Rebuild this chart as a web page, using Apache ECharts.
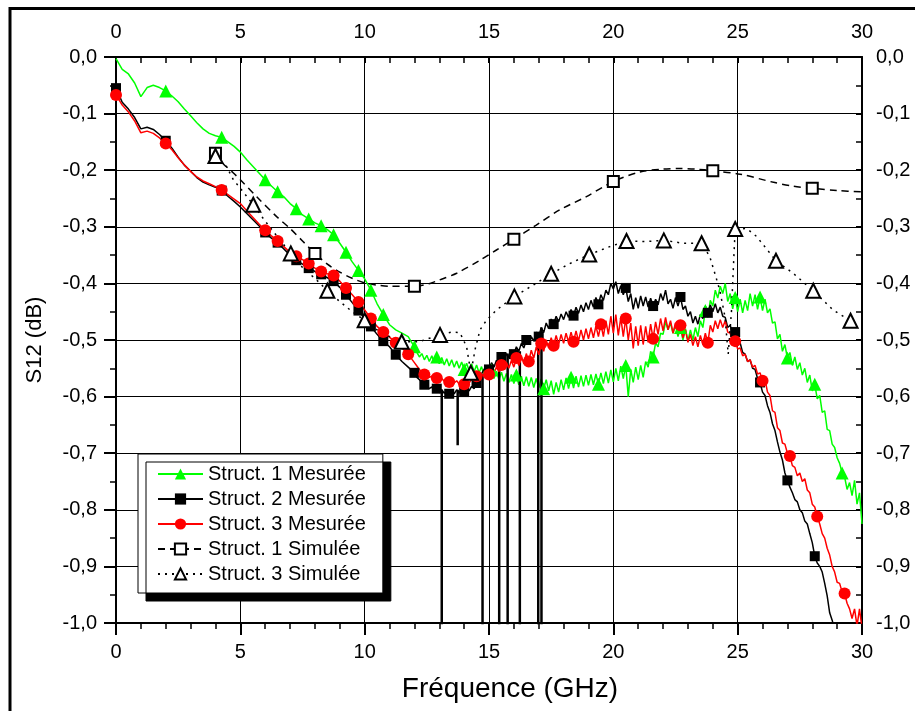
<!DOCTYPE html>
<html><head><meta charset="utf-8">
<script src="https://cdn.jsdelivr.net/npm/echarts@6/dist/echarts.min.js"></script>
<style>html,body{margin:0;padding:0;background:#fff}#c{width:915px;height:711px}</style>
</head><body><div id="c"></div><script>
// Frequency grid (GHz) of the measured curves
const freq = [
0,0.25,0.5,0.75, 1,1.25,1.5,1.75, 2,2.25,2.5,2.75, 3,3.25,3.5,3.75, 4,4.25,4.5,4.75, 5,5.25,5.5,5.75,
6,6.25,6.5,6.75, 7,7.25,7.5,7.75, 8,8.25,8.5,8.75, 9,9.25,9.5,9.75, 10,10.25,10.5,10.75, 11,11.25,11.5,11.75, 12,
12.1,12.2,12.3,12.4,12.5,12.6,12.7,12.8,12.9,13,
13.1,13.2,13.3,13.4,13.5,13.6,13.7,13.8,13.9,14,
14.1,14.2,14.3,14.4,14.5,14.6,14.7,14.8,14.9,15,
15.1,15.2,15.3,15.4,15.5,15.6,15.7,15.8,15.9,16,
16.1,16.2,16.3,16.4,16.5,16.6,16.7,16.8,16.9,17,
17.1,17.2,17.3,17.4,17.5,17.6,17.7,17.8,17.9,18,
18.1,18.2,18.3,18.4,18.5,18.6,18.7,18.8,18.9,19,
19.1,19.2,19.3,19.4,19.5,19.6,19.7,19.8,19.9,20,
20.1,20.2,20.3,20.4,20.5,20.6,20.7,20.8,20.9,21,
21.1,21.2,21.3,21.4,21.5,21.6,21.7,21.8,21.9,22,
22.1,22.2,22.3,22.4,22.5,22.6,22.7,22.8,22.9,23,
23.1,23.2,23.3,23.4,23.5,23.6,23.7,23.8,23.9,24,
24.1,24.2,24.3,24.4,24.5,24.6,24.7,24.8,24.9,25,
25.1,25.2,25.3,25.4,25.5,25.6,25.7,25.8,25.9,26,
26.1,26.2,26.3,26.4,26.5,26.6,26.7,26.8,26.9,27,
27.1,27.2,27.3,27.4,27.5,27.6,27.7,27.8,27.9,28,
28.1,28.2,28.3,28.4,28.5,28.6,28.7,28.8,28.9,29,
29.1,29.2,29.3,29.4,29.5,29.6,29.7,29.8,29.9,30
];
// Struct. 1 Mesurée (dB)
const s1Meas = [
-0.003,-0.022,-0.030,-0.046, -0.070,-0.054,-0.050,-0.054, -0.060,-0.069,-0.079,-0.092, -0.104,-0.116,-0.127,-0.135,
-0.139,-0.142,-0.150,-0.158, -0.168,-0.181,-0.193,-0.205, -0.217,-0.228,-0.238,-0.247, -0.259,-0.268,-0.279,-0.286,
-0.293,-0.298,-0.305,-0.314, -0.329,-0.345,-0.362,-0.377, -0.392,-0.412,-0.436,-0.455, -0.473,-0.482,-0.488,-0.494, -0.512,
-0.522,-0.530,-0.524,-0.535,-0.527,-0.538,-0.528,-0.540,-0.530,-0.542,
-0.531,-0.544,-0.533,-0.546,-0.535,-0.548,-0.537,-0.550,-0.539,-0.552,
-0.541,-0.554,-0.542,-0.556,-0.544,-0.558,-0.547,-0.562,-0.550,-0.566,
-0.553,-0.568,-0.555,-0.570,-0.557,-0.573,-0.559,-0.575,-0.561,-0.577,
-0.562,-0.579,-0.564,-0.581,-0.565,-0.582,-0.566,-0.584,-0.568,-0.585,
-0.569,-0.586,-0.570,-0.590,-0.572,-0.596,-0.575,-0.592,-0.570,-0.588,
-0.567,-0.586,-0.566,-0.585,-0.564,-0.583,-0.563,-0.582,-0.562,-0.580,
-0.561,-0.579,-0.560,-0.578,-0.558,-0.577,-0.556,-0.576,-0.553,-0.574,
-0.550,-0.572,-0.546,-0.568,-0.545,-0.600,-0.552,-0.575,-0.548,-0.570,
-0.545,-0.566,-0.538,-0.548,-0.520,-0.530,-0.505,-0.512,-0.488,-0.490,
-0.468,-0.482,-0.470,-0.488,-0.474,-0.494,-0.478,-0.500,-0.480,-0.502,
-0.482,-0.500,-0.478,-0.494,-0.466,-0.478,-0.448,-0.460,-0.430,-0.440,
-0.412,-0.426,-0.405,-0.418,-0.400,-0.432,-0.418,-0.445,-0.425,-0.450,
-0.428,-0.452,-0.430,-0.448,-0.418,-0.440,-0.420,-0.446,-0.424,-0.448,
-0.428,-0.452,-0.445,-0.470,-0.468,-0.498,-0.490,-0.520,-0.508,-0.532,
-0.522,-0.545,-0.530,-0.552,-0.540,-0.562,-0.550,-0.575,-0.562,-0.590,
-0.578,-0.604,-0.598,-0.628,-0.625,-0.658,-0.660,-0.684,-0.690,-0.708,
-0.718,-0.735,-0.742,-0.764,-0.752,-0.775,-0.748,-0.790,-0.770,-0.825
];
// Struct. 2 Mesurée (dB)
const s2Meas = [
-0.055,-0.080,-0.092,-0.107, -0.127,-0.124,-0.128,-0.137, -0.148,-0.161,-0.177,-0.191, -0.202,-0.213,-0.221,-0.226,
-0.230,-0.236,-0.246,-0.255, -0.265,-0.276,-0.287,-0.298, -0.310,-0.320,-0.328,-0.339, -0.350,-0.359,-0.366,-0.373,
-0.379,-0.384,-0.390,-0.396, -0.407,-0.420,-0.434,-0.448, -0.462,-0.476,-0.490,-0.502, -0.512,-0.526,-0.538,-0.548, -0.558,
-0.566,-0.570,-0.575,-0.579,-0.582,-0.586,-0.583,-0.590,-0.586,-0.593,
-0.588,-0.594,-0.589,-0.595,-0.589,-0.595,-0.588,-0.594,-0.587,-0.592,
-0.585,-0.590,-0.582,-0.586,-0.576,-0.578,-0.560,-0.552,-0.545,-0.552,
-0.540,-0.548,-0.536,-0.543,-0.530,-0.537,-0.524,-0.531,-0.518,-0.525,
-0.512,-0.520,-0.506,-0.514,-0.500,-0.508,-0.494,-0.502,-0.486,-0.494,
-0.478,-0.487,-0.470,-0.480,-0.463,-0.472,-0.458,-0.468,-0.454,-0.464,
-0.450,-0.460,-0.446,-0.457,-0.442,-0.453,-0.438,-0.450,-0.434,-0.446,
-0.430,-0.442,-0.425,-0.437,-0.420,-0.430,-0.412,-0.420,-0.400,-0.410,
-0.397,-0.418,-0.404,-0.420,-0.408,-0.432,-0.418,-0.446,-0.425,-0.444,
-0.422,-0.440,-0.424,-0.442,-0.426,-0.440,-0.428,-0.438,-0.418,-0.430,
-0.412,-0.436,-0.428,-0.444,-0.425,-0.440,-0.424,-0.446,-0.440,-0.458,
-0.450,-0.470,-0.458,-0.472,-0.455,-0.462,-0.440,-0.452,-0.438,-0.450,
-0.436,-0.452,-0.442,-0.458,-0.460,-0.478,-0.474,-0.490,-0.486,-0.502,
-0.505,-0.522,-0.525,-0.538,-0.535,-0.550,-0.552,-0.568,-0.575,-0.592,
-0.598,-0.616,-0.628,-0.648,-0.660,-0.680,-0.698,-0.712,-0.735,-0.748,
-0.760,-0.770,-0.782,-0.786,-0.800,-0.805,-0.820,-0.825,-0.842,-0.858,
-0.882,-0.894,-0.900,-0.910,-0.930,-0.952,-0.982,-0.995,-1.012,-1.030,
-1.050,-1.070,-1.090,-1.110,-1.130,-1.150,-1.170,-1.190,-1.210,-1.230
];
// Struct. 3 Mesurée (dB)
const s3Meas = [
-0.067,-0.085,-0.097,-0.113, -0.134,-0.131,-0.135,-0.143, -0.153,-0.164,-0.178,-0.191, -0.202,-0.212,-0.219,-0.224,
-0.229,-0.235,-0.243,-0.251, -0.259,-0.271,-0.283,-0.295, -0.306,-0.316,-0.325,-0.335, -0.345,-0.352,-0.358,-0.365,
-0.373,-0.379,-0.383,-0.386, -0.396,-0.408,-0.420,-0.433, -0.447,-0.462,-0.476,-0.486, -0.495,-0.505,-0.514,-0.525, -0.540,
-0.546,-0.552,-0.556,-0.561,-0.563,-0.566,-0.564,-0.569,-0.567,-0.571,
-0.568,-0.573,-0.569,-0.574,-0.570,-0.576,-0.572,-0.578,-0.574,-0.578,
-0.572,-0.576,-0.569,-0.572,-0.564,-0.567,-0.560,-0.564,-0.556,-0.561,
-0.552,-0.558,-0.548,-0.556,-0.544,-0.552,-0.540,-0.550,-0.536,-0.548,
-0.532,-0.545,-0.528,-0.542,-0.524,-0.538,-0.518,-0.532,-0.512,-0.526,
-0.506,-0.520,-0.500,-0.514,-0.496,-0.510,-0.492,-0.508,-0.490,-0.506,
-0.488,-0.504,-0.486,-0.503,-0.484,-0.502,-0.482,-0.500,-0.480,-0.498,
-0.478,-0.496,-0.475,-0.494,-0.472,-0.494,-0.466,-0.490,-0.458,-0.488,
-0.455,-0.492,-0.460,-0.494,-0.462,-0.500,-0.470,-0.515,-0.476,-0.510,
-0.474,-0.508,-0.476,-0.504,-0.472,-0.498,-0.468,-0.490,-0.462,-0.484,
-0.460,-0.482,-0.466,-0.488,-0.470,-0.490,-0.474,-0.496,-0.482,-0.504,
-0.490,-0.510,-0.494,-0.512,-0.492,-0.508,-0.488,-0.505,-0.474,-0.486,
-0.466,-0.480,-0.464,-0.478,-0.466,-0.486,-0.488,-0.504,-0.502,-0.516,
-0.514,-0.528,-0.525,-0.538,-0.535,-0.548,-0.545,-0.560,-0.558,-0.572,
-0.570,-0.592,-0.598,-0.625,-0.628,-0.655,-0.660,-0.682,-0.684,-0.700,
-0.705,-0.722,-0.725,-0.740,-0.735,-0.750,-0.745,-0.765,-0.770,-0.790,
-0.795,-0.812,-0.825,-0.842,-0.850,-0.868,-0.880,-0.900,-0.910,-0.928,
-0.930,-0.945,-0.948,-0.965,-0.975,-0.992,-0.975,-1.005,-0.975,-1.010
];
// frequencies where the measured curves carry a marker
const s1MarkFreq = [2.1,4.25,6.06,6.6,7.13,7.67,8.2,8.74,9.27,9.8,10.34,10.87,11.9,12.94,14.0,15.08,16.15,17.2,18.3,19.35,20.5,21.6,22.7,23.75,24.85,25.95,27.03,28.1,29.25];
const s2MarkFreq = [0,2.1,4.25,6.06,6.6,7.13,7.67,8.2,8.74,9.27,9.8,10.34,10.87,11.35,11.9,12.36,12.9,13.43,13.97,14.5,15.04,15.54,16.04,16.55,17.05,17.58,18.36,19.4,20.47,21.6,22.72,23.8,24.93,25.93,27.03,28.14];
const s3MarkFreq = [0,2.1,4.25,6.06,6.59,7.13,7.67,8.2,8.74,9.27,9.8,10.34,10.8,11.3,11.82,12.42,12.9,13.43,13.97,14.5,14.97,15.54,16.1,16.6,17.1,17.65,18.36,19.46,20.5,21.6,22.74,23.82,24.9,26.0,27.07,28.17,29.27];
// dropouts of Struct. 2 Mesurée: frequency and lowest value
const s2SpikeFreq = [13.1,13.74,14.74,15.41,15.75,16.24,16.98,17.11];
const s2SpikeLow  = [-1.05,-0.686,-1.05,-1.05,-1.05,-1.05,-1.05,-1.05];
// Struct. 1 Simulée
const sim1Freq = [4.0,4.3,4.7,5.0,5.66,6.46,7.0,7.5,8.0,8.5,9.0,9.5,10.0,10.5,11.0,12.0,12.63,13.0,13.7,14.64,15.3,16.0,16.9,17.85,18.9,20.0,21.07,22.0,22.7,23.3,24.0,25.1,26.4,27.2,28.0,29.0,30.0];
const sim1Val  = [-0.170,-0.188,-0.204,-0.217,-0.247,-0.282,-0.303,-0.325,-0.347,-0.366,-0.380,-0.391,-0.399,-0.403,-0.405,-0.405,-0.400,-0.394,-0.382,-0.359,-0.341,-0.322,-0.297,-0.270,-0.247,-0.220,-0.203,-0.198,-0.197,-0.198,-0.201,-0.207,-0.221,-0.228,-0.232,-0.236,-0.238];
const sim1MarkFreq = [4,8,12,16,20,24,28];
// Struct. 3 Simulée
const sim3Freq = [4.0,4.45,4.72,5.0,5.52,6.0,6.5,7.03,7.5,8.07,8.5,9.0,9.5,10.0,10.5,11.0,11.49,12.2,12.6,13.03,13.5,13.83,14.1,14.27,14.45,14.64,14.9,15.3,16.02,16.78,17.5,18.25,19.03,19.86,20.53,21.33,22.03,22.8,23.55,23.88,24.08,24.28,24.49,24.62,24.75,24.85,24.9,25.36,25.76,26.54,27.23,28.04,28.84,29.54];
const sim3Val  = [-0.175,-0.194,-0.217,-0.232,-0.261,-0.290,-0.318,-0.347,-0.372,-0.394,-0.413,-0.432,-0.450,-0.465,-0.482,-0.494,-0.503,-0.503,-0.497,-0.491,-0.486,-0.487,-0.512,-0.558,-0.515,-0.482,-0.465,-0.447,-0.423,-0.403,-0.383,-0.365,-0.349,-0.335,-0.325,-0.326,-0.324,-0.329,-0.329,-0.353,-0.382,-0.412,-0.459,-0.525,-0.450,-0.350,-0.304,-0.303,-0.317,-0.360,-0.382,-0.413,-0.447,-0.466];
const sim3MarkFreq = [4.0,5.52,7.03,8.5,10.0,11.49,13.03,14.27,16.02,17.5,19.03,20.53,22.03,23.55,24.9,26.54,28.04,29.54];

const names = ['Struct. 1 Mesurée','Struct. 2 Mesurée','Struct. 3 Mesurée','Struct. 1 Simulée','Struct. 3 Simulée'];
const xTitle = 'Fréquence (GHz)';
const yTitle = 'S12 (dB)';

const FONT = 'Liberation Sans, Arial, Helvetica, sans-serif';
function nearestIndex(xs, f){ let b=0; for(let i=1;i<xs.length;i++){ if(Math.abs(xs[i]-f)<Math.abs(xs[b]-f)) b=i; } return b; }
function markSet(xs, marks){ return new Set(marks.map(f=>nearestIndex(xs,f))); }

function curve(name, xs, ys, marks, color, symbol, size, lineType, smooth){
  const idx = markSet(xs, marks);
  return {
    name, type:'line', data: xs.map((x,i)=>[x, ys[i]]),
    symbol, showSymbol:true, showAllSymbol:true,
    symbolSize:(v,p)=> idx.has(p.dataIndex) ? size : 0,
    smooth: smooth || false,
    lineStyle:{color, width:1.5, type: lineType || 'solid'},
    itemStyle: symbol.indexOf('empty')===0 ? {color:'#000', borderColor:'#000', borderWidth:1} : {color, borderWidth:0},
    emphasis:{disabled:true}, animation:false, clip:true
  };
}

const spikeData = [];
s2SpikeFreq.forEach((f,k)=>{
  const top = s2Meas[nearestIndex(freq, f)];
  spikeData.push([f, top],[f, s2SpikeLow[k]],[f,'-']);
});

const fmt = v => v.toFixed(1).replace('.', ',').replace('-0,0','0,0');
const axisLbl = {color:'#000', fontSize:20, fontFamily:FONT};

const chart = echarts.init(document.getElementById('c'), null, {renderer:'canvas'});
chart.setOption({
  animation:false,
  backgroundColor:'#fff',
  textStyle:{fontFamily:FONT},
  grid:{left:116, top:57, width:746, height:566, containLabel:false},
  xAxis:[
    {type:'value', position:'bottom', min:0, max:30, interval:5,
     axisLine:{onZero:false, lineStyle:{color:'#000', width:2}},
     axisTick:{show:true, inside:false, length:12, lineStyle:{color:'#000', width:2}},
     minorTick:{show:true, splitNumber:5, length:6, lineStyle:{color:'#000', width:1.5}},
     splitLine:{show:true, lineStyle:{color:'#000', width:1}},
     axisLabel:Object.assign({margin:19}, axisLbl),
     name:xTitle, nameLocation:'middle', nameGap:52,
     nameTextStyle:{color:'#000', fontSize:28, fontFamily:FONT, padding:[0,0,0,42]}},
    {type:'value', position:'top', min:0, max:30, interval:5,
     axisLine:{onZero:false, lineStyle:{color:'#000', width:2}},
     axisTick:{show:true, inside:true, length:6, lineStyle:{color:'#000', width:2}},
     minorTick:{show:true, splitNumber:5, length:6, lineStyle:{color:'#000', width:1.5}},
     splitLine:{show:false},
     axisLabel:Object.assign({margin:15}, axisLbl)}
  ],
  yAxis:[
    {type:'value', position:'left', min:-1, max:0, interval:0.1,
     axisLine:{onZero:false, lineStyle:{color:'#000', width:2}},
     axisTick:{show:true, inside:false, length:12, lineStyle:{color:'#000', width:2}},
     minorTick:{show:true, splitNumber:2, length:6, lineStyle:{color:'#000', width:1.5}},
     splitLine:{show:true, lineStyle:{color:'#000', width:1}},
     axisLabel:Object.assign({margin:19, formatter:fmt}, axisLbl),
     name:yTitle, nameLocation:'middle', nameGap:70,
     nameTextStyle:{color:'#000', fontSize:22, fontFamily:FONT}},
    {type:'value', position:'right', min:-1, max:0, interval:0.1,
     axisLine:{onZero:false, lineStyle:{color:'#000', width:2}},
     axisTick:{show:true, inside:true, length:6, lineStyle:{color:'#000', width:2}},
     minorTick:{show:true, splitNumber:2, length:6, lineStyle:{color:'#000', width:1.5}},
     splitLine:{show:false},
     axisLabel:Object.assign({margin:14, formatter:fmt}, axisLbl)}
  ],
  legend:{
    data:names, orient:'vertical', left:138, top:454,
    padding:[10,17,9,19], itemWidth:45, itemHeight:14, itemGap:5,
    backgroundColor:'#fff', borderColor:'#000', borderWidth:1,
    shadowColor:'#000', shadowBlur:0, shadowOffsetX:8, shadowOffsetY:8,
    textStyle:{fontSize:20, color:'#000', fontFamily:FONT},
    selectedMode:false, z:20
  },
  graphic:[{type:'polyline', silent:true, z:100,
    shape:{points:[[10,711],[10,8.5],[915,8.5]]},
    style:{stroke:'#000', lineWidth:3, fill:null}}],
  series:[
    curve(names[0], freq, s1Meas, s1MarkFreq, '#00ff00', 'triangle', 13),
    curve(names[1], freq, s2Meas, s2MarkFreq, '#000000', 'rect', 10),
    {name:'dropouts', type:'line', data:spikeData, symbol:'none', connectNulls:false,
     lineStyle:{color:'#000', width:2.5}, emphasis:{disabled:true}, animation:false},
    curve(names[2], freq, s3Meas, s3MarkFreq, '#ff0000', 'circle', 12),
    curve(names[3], sim1Freq, sim1Val, sim1MarkFreq, '#000000', 'emptyRect', 11, [7,5], 0.3),
    curve(names[4], sim3Freq, sim3Val, sim3MarkFreq, '#000000', 'emptyTriangle', 14, [2,5], false)
  ]
});
</script></body></html>
